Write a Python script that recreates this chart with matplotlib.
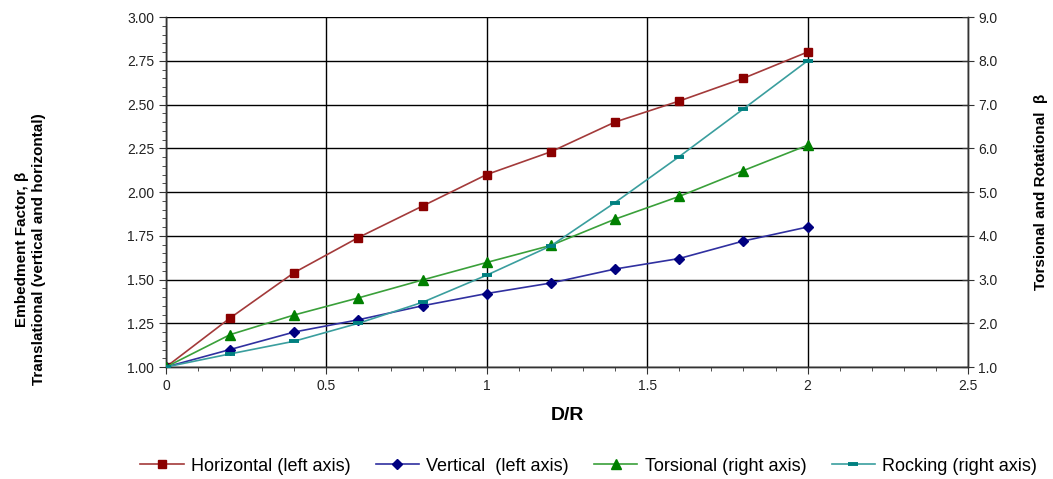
import matplotlib
matplotlib.use("Agg")
import matplotlib.pyplot as plt
from matplotlib.ticker import MultipleLocator, FixedLocator, FuncFormatter

plt.rcParams['font.family'] = ['Liberation Sans', 'DejaVu Sans']

dr = [0.0, 0.2, 0.4, 0.6, 0.8, 1.0, 1.2, 1.4, 1.6, 1.8, 2.0]
horizontal = [1.00, 1.28, 1.54, 1.74, 1.92, 2.10, 2.23, 2.40, 2.52, 2.65, 2.80]
vertical = [1.00, 1.10, 1.20, 1.27, 1.35, 1.42, 1.48, 1.56, 1.62, 1.72, 1.80]
torsional = [1.00, 1.74, 2.19, 2.58, 2.99, 3.39, 3.78, 4.38, 4.90, 5.49, 6.07]
rocking = [1.00, 1.30, 1.59, 2.00, 2.48, 3.10, 3.77, 4.76, 5.81, 6.90, 8.00]

labels = ["Horizontal (left axis)", "Vertical  (left axis)",
          "Torsional (right axis)", "Rocking (right axis)"]
x_ticks = [0, 0.5, 1, 1.5, 2, 2.5]
x_ticklabels = ["0", "0.5", "1", "1.5", "2", "2.5"]

fig = plt.figure(figsize=(10.53, 4.79), dpi=100)
ax = fig.add_axes([0.1576, 0.2338, 0.9193 - 0.1576, 0.9645 - 0.2338])
ax2 = ax.twinx()

h1, = ax.plot(dr, horizontal, color='#A33A3A', lw=1.2, marker='s', ms=5.8,
              mfc='#8B0000', mec='#8B0000', label=labels[0], zorder=5)
h2, = ax.plot(dr, vertical, color='#3030A0', lw=1.2, marker='D', ms=5,
              mfc='#000080', mec='#000080', label=labels[1], zorder=5)
h3, = ax2.plot(dr, torsional, color='#3AA03A', lw=1.2, marker='^', ms=6.5,
               mfc='#008000', mec='#008000', label=labels[2], zorder=5)
h4, = ax2.plot(dr, rocking, color='#3A9E9E', lw=1.2, marker='_', ms=6.5, mew=2.8,
               mfc='#008080', mec='#008080', label=labels[3], zorder=5)

ax.set_xlim(0, 2.5)
ax.set_ylim(1.0, 3.0)
ax2.set_ylim(1.0, 9.0)

ax.xaxis.set_major_locator(FixedLocator(x_ticks))
ax.set_xticklabels(x_ticklabels)
ax.xaxis.set_minor_locator(MultipleLocator(0.1))
ax.yaxis.set_major_locator(MultipleLocator(0.25))
ax.yaxis.set_minor_locator(MultipleLocator(0.05))
ax.yaxis.set_major_formatter(FuncFormatter(lambda v, p: f"{v:.2f}"))
ax2.yaxis.set_major_locator(MultipleLocator(1.0))
ax2.yaxis.set_major_formatter(FuncFormatter(lambda v, p: f"{v:.1f}"))

ax.grid(True, which='major', color='black', lw=1.0)
ax.set_axisbelow(True)

for a in (ax, ax2):
    for s in a.spines.values():
        s.set_color('#333333')
        s.set_linewidth(1.0)
ax.spines['top'].set_visible(False)
ax2.spines['top'].set_visible(False)

ax.tick_params(axis='both', which='major', direction='out', length=5,
               labelsize=10, colors='#333333', labelcolor='#222222')
ax.tick_params(axis='both', which='minor', direction='out', length=3, colors='#333333')
ax2.tick_params(axis='y', which='major', direction='inout', length=8,
                labelsize=10, colors='#333333', labelcolor='#222222')

ax.set_xlabel("D/R", fontsize=14, fontweight='bold', labelpad=10)
ax.set_ylabel("Embedment Factor, β\nTranslational (vertical and horizontal)",
              fontsize=11, fontweight='bold', linespacing=1.3)
ax.yaxis.set_label_coords(-0.149, 0.337)
ax2.set_ylabel("Torsional and Rotational  β", fontsize=11, fontweight='bold',
               labelpad=26)

fig.legend(handles=[h1, h2, h3, h4], labels=labels, loc='center',
           bbox_to_anchor=(0.559, 0.027), ncol=4, frameon=False, fontsize=13,
           handlelength=2.4, handletextpad=0.4, columnspacing=1.4)

fig.savefig("out.png", dpi=100)
